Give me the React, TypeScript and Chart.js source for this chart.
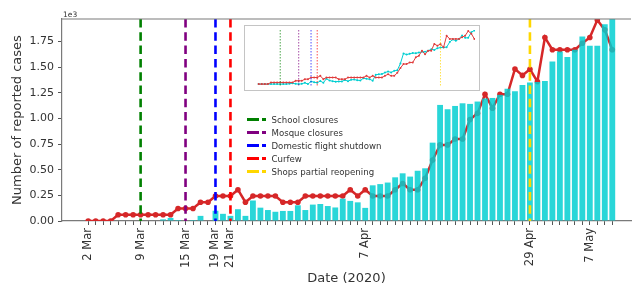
import React, { useEffect, useRef } from 'react';
import { Chart, registerables } from 'chart.js';

Chart.register(...registerables);

// Daily reported cases (thousands), one value per day index starting at 2 Mar
const reportedCases = [
  0, 0, 0, 0, 0, 0, 0, 0, 0, 0,
  0.016, 0.03, 0.01, 0, 0.01, 0.05, 0, 0.1, 0.07, 0.05,
  0.115, 0.05, 0.2, 0.13, 0.107, 0.09, 0.098, 0.098, 0.153, 0.107,
  0.16, 0.166, 0.146, 0.132, 0.218, 0.196, 0.182, 0.128, 0.348, 0.36,
  0.375, 0.426, 0.465, 0.433, 0.49, 0.514, 0.764, 1.132, 1.09, 1.122,
  1.148, 1.142, 1.165, 1.195, 1.2, 1.23, 1.29, 1.265, 1.327, 1.35,
  1.355, 1.366, 1.555, 1.652, 1.6, 1.67, 1.8, 1.71, 1.71, 1.92,
  1.98,
];

// Red trend line (thousands)
const trendValues = [
  0, 0, 0, 0, 0.061, 0.061, 0.061, 0.061, 0.061, 0.061,
  0.061, 0.061, 0.122, 0.122, 0.122, 0.183, 0.183, 0.244, 0.244, 0.244,
  0.305, 0.183, 0.244, 0.244, 0.244, 0.244, 0.183, 0.183, 0.183, 0.244,
  0.244, 0.244, 0.244, 0.244, 0.244, 0.305, 0.244, 0.305, 0.244, 0.244,
  0.244, 0.305, 0.366, 0.305, 0.305, 0.417, 0.595, 0.742, 0.742, 0.8,
  0.8, 0.99, 1.05, 1.236, 1.1, 1.236, 1.236, 1.483, 1.42, 1.48,
  1.36, 1.79, 1.67, 1.67, 1.67, 1.67, 1.734, 1.79, 1.96, 1.864,
  1.67,
];

const yTickValues = [0, 0.25, 0.5, 0.75, 1.0, 1.25, 1.5, 1.75];
const xTickIdx = [0, 7, 13, 17, 19, 37, 59, 67];
const xTickLabels = ['2 Mar', '9 Mar', '15 Mar', '19 Mar', '21 Mar', '7 Apr', '29 Apr', '7 May'];

const eventIdx = [7, 13, 17, 19, 59];
const eventNames = ['School closures', 'Mosque closures', 'Domestic flight shutdown', 'Curfew', 'Shops partial reopening'];
const eventColors = ['#008000', '#800080', '#0000ff', '#ff0000', '#ffd700'];

const FONT = "'DejaVu Sans', sans-serif";
const TEXT = '#333333';
const SPINE = '#7a7a7a';

function eventPlugin(width: number, dash: number[], alpha: number) {
  return {
    id: 'eventLines',
    afterDatasetsDraw(chart: any) {
      const { ctx, chartArea, scales } = chart;
      ctx.save();
      ctx.beginPath();
      ctx.rect(chartArea.left, chartArea.top, chartArea.right - chartArea.left, chartArea.bottom - chartArea.top);
      ctx.clip();
      ctx.globalAlpha = alpha;
      eventIdx.forEach((d, k) => {
        const x = scales.x.getPixelForValue(d);
        ctx.strokeStyle = eventColors[k];
        ctx.lineWidth = width;
        ctx.setLineDash(dash);
        ctx.beginPath();
        ctx.moveTo(x, chartArea.top);
        ctx.lineTo(x, chartArea.bottom);
        ctx.stroke();
      });
      ctx.restore();
    },
  };
}

const topSpine = {
  id: 'topSpine',
  afterDraw(chart: any) {
    const { ctx, chartArea } = chart;
    ctx.save();
    ctx.strokeStyle = SPINE;
    ctx.lineWidth = 1.2;
    ctx.beginPath();
    ctx.moveTo(chartArea.left, chartArea.top);
    ctx.lineTo(chartArea.right, chartArea.top);
    ctx.stroke();
    ctx.restore();
  },
};

export default function App() {
  const mainRef = useRef<HTMLCanvasElement>(null);
  const insetRef = useRef<HTMLCanvasElement>(null);

  useEffect(() => {
    const main = new Chart(mainRef.current as HTMLCanvasElement, {
      type: 'bar',
      data: {
        datasets: [
          {
            type: 'bar',
            data: reportedCases.map((v, i) => ({ x: i, y: v })),
            backgroundColor: 'rgba(0,206,209,0.84)',
            borderWidth: 0,
            barPercentage: 0.78,
            categoryPercentage: 1,
            order: 0,
          } as any,
          {
            type: 'line',
            data: trendValues.map((v, i) => ({ x: i, y: v })),
            borderColor: '#d62728',
            backgroundColor: '#d62728',
            borderWidth: 2.5,
            pointRadius: 2.8,
            pointBorderWidth: 0,
            pointBackgroundColor: '#d62728',
            order: 1,
          } as any,
        ],
      },
      options: {
        responsive: false,
        animation: false,
        layout: { padding: { top: 19, left: 0, right: 0, bottom: 0 } },
        plugins: { legend: { display: false }, tooltip: { enabled: false } },
        scales: {
          x: {
            type: 'linear',
            min: -3.5,
            max: 72.5,
            offset: false,
            afterBuildTicks: (s: any) => {
              s.ticks = reportedCases.map((_, i) => ({ value: i }));
            },
            afterFit: (s: any) => {
              s.height = 68;
            },
            ticks: {
              autoSkip: false,
              minRotation: 90,
              maxRotation: 90,
              padding: 3,
              color: TEXT,
              font: { size: 11.5, family: FONT },
              callback: (v: any) => {
                const k = xTickIdx.indexOf(Number(v));
                return k >= 0 ? xTickLabels[k] : '';
              },
            },
            grid: { drawOnChartArea: false, drawTicks: true, tickLength: 4, color: '#555', offset: false },
            border: { display: true, color: SPINE, width: 1.2 },
            title: {
              display: true,
              text: 'Date (2020)',
              color: TEXT,
              font: { size: 13, family: FONT },
              padding: { top: 0, bottom: 3 },
            },
          },
          y: {
            type: 'linear',
            min: 0,
            max: 1.97,
            afterBuildTicks: (s: any) => {
              s.ticks = yTickValues.map((v) => ({ value: v }));
            },
            afterFit: (s: any) => {
              s.width = 62;
            },
            ticks: {
              padding: 4,
              color: TEXT,
              font: { size: 11, family: FONT },
              callback: (v: any) => Number(v).toFixed(2),
            },
            grid: { drawOnChartArea: false, drawTicks: true, tickLength: 4, color: '#555' },
            border: { display: true, color: SPINE, width: 1.2 },
            title: {
              display: true,
              text: 'Number of reported cases',
              color: TEXT,
              font: { size: 13, family: FONT },
              padding: { top: 10, bottom: 0 },
            },
          },
        },
      } as any,
      plugins: [eventPlugin(2.6, [8.5, 4.8], 1), topSpine],
    });

    const inset = new Chart(insetRef.current as HTMLCanvasElement, {
      type: 'line',
      data: {
        datasets: [
          {
            data: trendValues.map((v, i) => ({ x: i, y: v })),
            borderColor: '#e03c3c',
            backgroundColor: '#e03c3c',
            borderWidth: 1,
            pointRadius: 1,
            pointBorderWidth: 0,
          },
          {
            data: reportedCases.map((v, i) => ({ x: i, y: v })),
            borderColor: 'rgb(0,206,209)',
            backgroundColor: 'rgb(0,206,209)',
            borderWidth: 1,
            pointRadius: 1,
            pointBorderWidth: 0,
          },
        ],
      },
      options: {
        responsive: false,
        animation: false,
        layout: { padding: 0 },
        plugins: { legend: { display: false }, tooltip: { enabled: false } },
        scales: {
          x: { type: 'linear', display: false, min: -3.13, max: 70.2 },
          y: { type: 'linear', display: false, min: -0.07, max: 2.0 },
        },
      } as any,
      plugins: [eventPlugin(1, [1.5, 1.5], 0.7)],
    });

    return () => {
      main.destroy();
      inset.destroy();
    };
  }, []);

  return (
    <div style={{ position: 'absolute', left: 0, top: 0, width: 635, height: 289, background: '#fff', overflow: 'hidden' }}>
      <canvas ref={mainRef} width={635} height={289} style={{ position: 'absolute', left: 0, top: 0 }} />
      <div style={{ position: 'absolute', left: 63, top: 10, fontFamily: FONT, fontSize: 7.5, color: TEXT, lineHeight: '10px' }}>1e3</div>
      <div
        style={{
          position: 'absolute',
          left: 244,
          top: 25,
          width: 236,
          height: 66,
          boxSizing: 'border-box',
          border: '1px solid #c4c4c4',
          background: '#fff',
        }}
      >
        <canvas ref={insetRef} width={234} height={64} style={{ display: 'block' }} />
      </div>
      {eventNames.map((name, k) => (
        <div
          key={name}
          style={{
            position: 'absolute',
            left: 246.5,
            top: 113 + k * 13.1,
            height: 13,
            display: 'flex',
            alignItems: 'center',
            fontFamily: FONT,
            fontSize: 8.6,
            color: TEXT,
            whiteSpace: 'nowrap',
          }}
        >
          <svg width={19} height={13} style={{ marginRight: 6, flex: 'none' }}>
            <line x1={0} y1={6.5} x2={19} y2={6.5} stroke={eventColors[k]} strokeWidth={2.8} strokeDasharray="12 3" />
          </svg>
          <span>{name}</span>
        </div>
      ))}
    </div>
  );
}
